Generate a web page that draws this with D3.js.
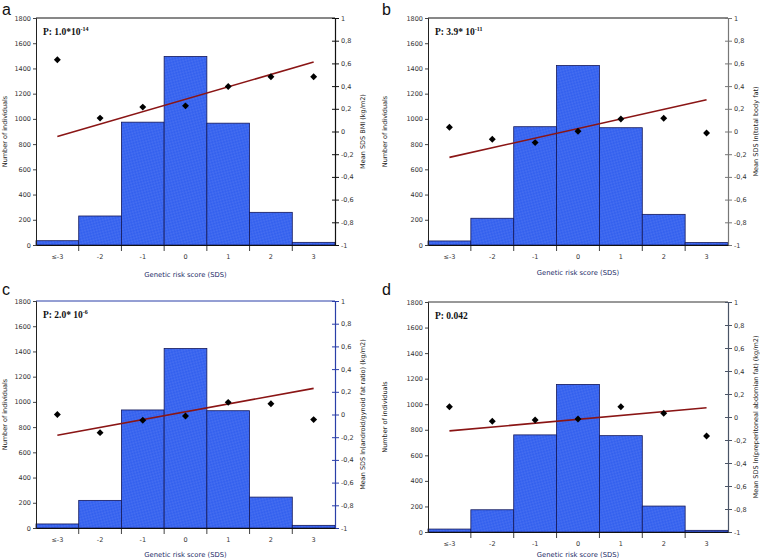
<!DOCTYPE html>
<meta charset="utf-8">
<title>Genetic risk score panels</title>
<style>
  body { margin:0; background:#fff; }
  .tick text { font: 6.5px "DejaVu Sans", sans-serif; fill:#333; }
  .ttl { font: 6.5px "DejaVu Sans", sans-serif; fill:#222; }
  .xttl { font: 6.8px "DejaVu Sans", sans-serif; fill:#1a2a66; }
  .pval { font: bold 9.5px "Liberation Serif", serif; fill:#111; }
  .letter { font: 16px "Liberation Sans", sans-serif; fill:#111; }
</style>
<body>
<svg width="760" height="560" id="chart"></svg>
<script src="https://d3js.org/d3.v7.min.js"></script>
<script>
// categories on the x axis
var categories = ["\u2264-3", "-2", "-1", "0", "1", "2", "3"];
var countTicks = [0, 200, 400, 600, 800, 1000, 1200, 1400, 1600, 1800];
var meanTicks = [-1, -0.8, -0.6, -0.4, -0.2, 0, 0.2, 0.4, 0.6, 0.8, 1];

// a: BMI
var countsA = [34, 230, 974, 1495, 966, 259, 21];
var meansA  = [0.632, 0.118, 0.215, 0.226, 0.397, 0.482, 0.482];
var trendA  = [-0.044, 0.612];
// b: total body fat
var countsB = [32, 212, 938, 1423, 930, 243, 19];
var meansB  = [0.037, -0.069, -0.098, 0.002, 0.11, 0.116, -0.013];
var trendB  = [-0.228, 0.28];
// c: android/gynoid ratio
var countsC = [32, 219, 936, 1423, 930, 245, 21];
var meansC  = [0.0, -0.16, -0.05, -0.013, 0.107, 0.095, -0.045];
var trendC  = [-0.183, 0.23];
// d: preperitoneal abdominal fat
var countsD = [23, 174, 760, 1155, 754, 203, 13];
var meansD  = [0.089, -0.037, -0.026, -0.017, 0.089, 0.032, -0.165];
var trendD  = [-0.121, 0.081];

var panels = [
  {letter:"a", counts:countsA, means:meansA, trend:trendA, p:["P: 1.0*10", "-14"],
   right:"Mean SDS BMI (kg/m2)", x0:36, x1:335, y0:18, y1:245, rcol:"#111", tcol:"#111", ox:0, oy:0, xt:32},
  {letter:"b", counts:countsB, means:meansB, trend:trendB, p:["P: 3.9* 10", "-11"],
   right:"Mean SDS ln(total body fat)", x0:428, x1:728, y0:18, y1:245, rcol:"#777", tcol:"#111", ox:380, oy:0, xt:30},
  {letter:"c", counts:countsC, means:meansC, trend:trendC, p:["P: 2.0* 10", "-6"],
   right:"Mean SDS ln(android/gynoid fat ratio) (kg/m2)", x0:36, x1:335, y0:301, y1:528, rcol:"#2a3fa8", tcol:"#2a3fa8", ox:0, oy:280, xt:29},
  {letter:"d", counts:countsD, means:meansD, trend:trendD, p:["P: 0.042", ""],
   right:"Mean SDS ln(preperitoneal abdomian fat) (kg/m2)", x0:428, x1:728, y0:302, y1:532, rcol:"#4a5466", tcol:"#333", ox:380, oy:280, xt:25}
];

var svg = d3.select("#chart");

// dotted texture of the bars
var defs = svg.append("defs");
var pat = defs.append("pattern")
    .attr("id", "dots")
    .attr("patternUnits", "userSpaceOnUse")
    .attr("width", 4).attr("height", 4)
    .attr("patternTransform", "rotate(30)");
pat.append("rect").attr("width", 4).attr("height", 4).attr("fill", "#3461ee");
pat.append("circle").attr("cx", 1).attr("cy", 1).attr("r", 0.45).attr("fill", "#c8d4ff").attr("opacity", 0.8);
pat.append("circle").attr("cx", 3).attr("cy", 3).attr("r", 0.45).attr("fill", "#c8d4ff").attr("opacity", 0.8);

panels.forEach(function(p) {
  var g = svg.append("g");

  var x = d3.scaleBand().domain(categories).range([p.x0, p.x1]).padding(0);
  var y = d3.scaleLinear().domain([0, 1800]).range([p.y1, p.y0]);
  var y2 = d3.scaleLinear().domain([-1, 1]).range([p.y1, p.y0]);

  // bars
  g.selectAll("rect.bar")
    .data(p.counts)
    .enter().append("rect")
      .attr("class", "bar")
      .attr("x", function(d, i) { return x(categories[i]); })
      .attr("width", x.bandwidth())
      .attr("y", function(d) { return y(d); })
      .attr("height", function(d) { return y(0) - y(d); })
      .attr("fill", "url(#dots)")
      .attr("stroke", "#14185a")
      .attr("stroke-width", 0.8);

  // frame top line
  g.append("line")
    .attr("x1", p.x0).attr("x2", p.x1).attr("y1", p.y0).attr("y2", p.y0)
    .attr("stroke", p.tcol).attr("stroke-width", 1);

  // left axis
  var la = g.append("g")
    .attr("transform", "translate(" + p.x0 + ",0)")
    .call(d3.axisLeft(y).tickValues(countTicks).tickSize(3).tickPadding(2)
      .tickFormat(d3.format("d")));
  la.select(".domain").attr("stroke", "#222");
  la.selectAll(".tick line").attr("stroke", "#444");

  // right axis
  var ra = g.append("g")
    .attr("transform", "translate(" + p.x1 + ",0)")
    .call(d3.axisRight(y2).tickValues(meanTicks).tickSize(4).tickPadding(2)
      .tickFormat(function(d) { return (Math.round(d * 10) / 10).toString().replace(".", ","); }));
  ra.select(".domain").attr("stroke", p.rcol).attr("stroke-width", 1.2);
  ra.selectAll(".tick line").attr("stroke", p.rcol).attr("x1", -3);

  // bottom axis
  var ba = g.append("g")
    .attr("transform", "translate(0," + p.y1 + ")")
    .call(d3.axisBottom(x).tickSize(0).tickPadding(9));
  ba.select(".domain").attr("stroke", "#111");
  g.selectAll("line.sep")
    .data(categories.slice(1))
    .enter().append("line")
      .attr("class", "sep")
      .attr("x1", function(d) { return x(d); })
      .attr("x2", function(d) { return x(d); })
      .attr("y1", p.y1).attr("y2", p.y1 + 6)
      .attr("stroke", "#111").attr("stroke-width", 0.8);

  // trend line
  g.append("line")
    .attr("x1", x(categories[0]) + x.bandwidth() / 2)
    .attr("x2", x(categories[6]) + x.bandwidth() / 2)
    .attr("y1", y2(p.trend[0]))
    .attr("y2", y2(p.trend[1]))
    .attr("stroke", "#8a1515").attr("stroke-width", 1.6);

  // mean points
  g.selectAll("path.pt")
    .data(p.means)
    .enter().append("path")
      .attr("class", "pt")
      .attr("d", d3.symbol().type(d3.symbolSquare).size(24))
      .attr("transform", function(d, i) {
        return "translate(" + (x(categories[i]) + x.bandwidth() / 2) + "," + y2(d) + ") rotate(45)";
      })
      .attr("fill", "#000");

  // p value
  var pt = g.append("text").attr("class", "pval")
    .attr("x", p.x0 + 7).attr("y", p.y0 + 17);
  pt.append("tspan").text(p.p[0]);
  pt.append("tspan").attr("dy", -4).attr("font-size", "6px").text(p.p[1]);

  // titles
  g.append("text").attr("class", "letter")
    .attr("x", p.ox + 2).attr("y", p.oy + 15).text(p.letter);

  g.append("text").attr("class", "ttl")
    .attr("transform", "translate(" + (p.ox + 7) + "," + ((p.y0 + p.y1) / 2) + ") rotate(-90)")
    .attr("text-anchor", "middle").text("Number of individuals");

  g.append("text").attr("class", "ttl")
    .attr("transform", "translate(" + (p.x1 + 30) + "," + ((p.y0 + p.y1) / 2) + ") rotate(-90)")
    .attr("text-anchor", "middle").text(p.right);

  g.append("text").attr("class", "xttl")
    .attr("x", (p.x0 + p.x1) / 2).attr("y", p.y1 + p.xt)
    .attr("text-anchor", "middle").text("Genetic risk score (SDS)");
});
</script>
</body>
